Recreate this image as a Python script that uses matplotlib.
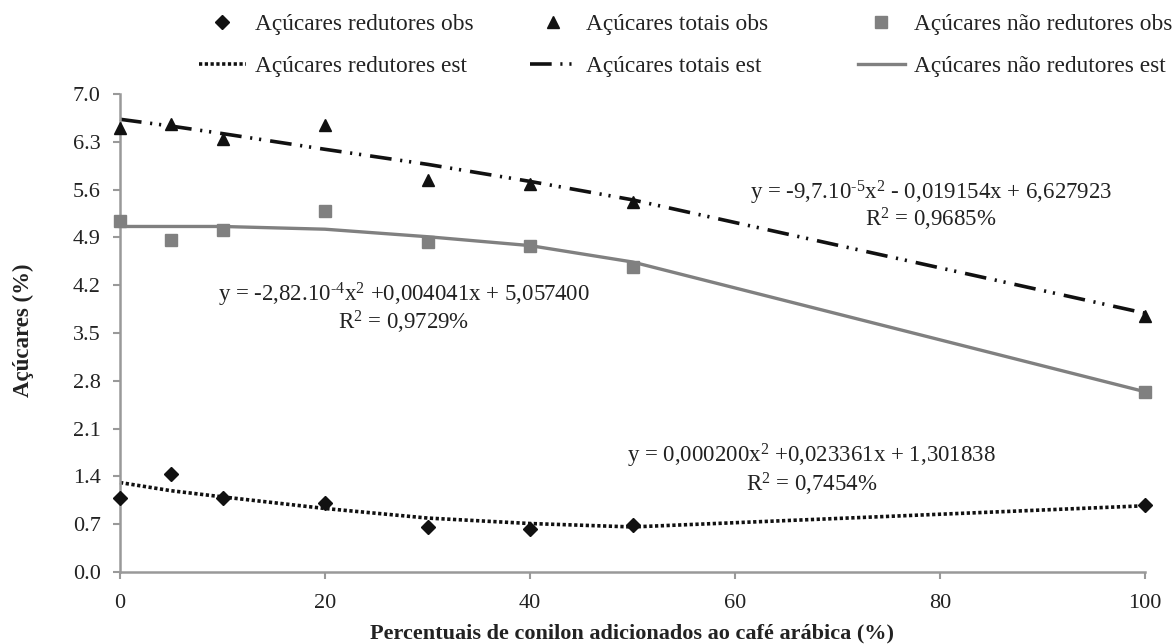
import matplotlib
matplotlib.use("Agg")
import matplotlib.pyplot as plt
from matplotlib.lines import Line2D

plt.rcParams['font.family'] = ['Liberation Serif', 'DejaVu Serif']
plt.rcParams['mathtext.fontset'] = 'custom'
plt.rcParams['mathtext.rm'] = 'Liberation Serif'
plt.rcParams['mathtext.it'] = 'Liberation Serif:italic'
plt.rcParams['mathtext.bf'] = 'Liberation Serif:bold'

x = [0, 5, 10, 20, 30, 40, 50, 100]
red_obs = [1.09, 1.44, 1.09, 1.01, 0.66, 0.63, 0.69, 0.98]
red_est = [1.31, 1.19, 1.10, 0.93, 0.79, 0.71, 0.66, 0.97]
tot_obs = [6.50, 6.56, 6.34, 6.55, 5.74, 5.68, 5.42, 3.75]
tot_est = [6.63, 6.53, 6.42, 6.19, 5.97, 5.72, 5.45, 3.79]
nr_obs = [5.14, 4.86, 5.01, 5.29, 4.83, 4.78, 4.47, 2.64]
nr_est = [5.06, 5.06, 5.06, 5.02, 4.91, 4.78, 4.54, 2.64]

xticks = [0, 20, 40, 60, 80, 100]
yticks = [0.0, 0.7, 1.4, 2.1, 2.8, 3.5, 4.2, 4.9, 5.6, 6.3, 7.0]

W, H = 1173, 644
fig = plt.figure(figsize=(W / 100, H / 100), dpi=100)
ax = fig.add_axes([120 / W, 1 - 572 / H, (1145 - 120) / W, (572 - 94) / H])

FS = 16.5
black = '#111111'
gray = '#808080'
dotted = (0, (0.9, 0.7))
dashdot = (0, (6.0, 2.4, 0.6, 1.9, 0.6, 2.5))

ax.plot(x, red_est, color=black, lw=2.6, linestyle=dotted, zorder=2)
ax.plot(x, tot_est, color=black, lw=2.6, linestyle=dashdot, zorder=2)
ax.plot(x, nr_est, color=gray, lw=2.4, linestyle='-', zorder=2)
ax.plot(x, red_obs, linestyle='none', marker='D', ms=7, color=black, zorder=3)
ax.plot(x, tot_obs, linestyle='none', marker='^', ms=9, color=black, zorder=3)
ax.plot(x, nr_obs, linestyle='none', marker='s', ms=8.5, color=gray, zorder=3)

ax.set_xlim(0, 100)
ax.set_ylim(0, 7.0)
ax.set_xticks(xticks)
ax.set_yticks(yticks)
ax.set_xticklabels([str(t) for t in xticks])
ax.set_yticklabels(['%.1f' % t for t in yticks])
ax.tick_params(axis='both', labelsize=16, colors='#999999', labelcolor='#222222',
               length=5, width=1.5, direction='out')
ax.tick_params(axis='x', pad=11)
ax.tick_params(axis='y', pad=9)
for s in ['top', 'right']:
    ax.spines[s].set_visible(False)
for s in ['left', 'bottom']:
    ax.spines[s].set_color('#999999')
    ax.spines[s].set_linewidth(1.8)
for ln in ax.lines:
    ln.set_clip_on(False)

fig.text(632 / W, 1 - 633 / H, 'Percentuais de conilon adicionados ao café arábica (%)',
         fontsize=16, fontweight='bold', color='#222222', ha='center', va='center')
fig.text(23 / W, 1 - 330 / H, 'Açúcares (%)', rotation=90,
         fontsize=16.5, fontweight='bold', color='#222222', ha='center', va='center')

eq_kw = dict(ha='center', va='center', fontsize=FS, color='#222222')
ax.text(79.1, 5.55, 'y = -9,7.10$^{\u20105}$x$^{2}$ - 0,019154x + 6,627923', **eq_kw)
ax.text(79.1, 5.16, 'R$^{2}$ = 0,9685%', **eq_kw)
ax.text(67.5, 1.70, 'y = 0,000200x$^{2}$ +0,023361x + 1,301838', **eq_kw)
ax.text(67.5, 1.29, 'R$^{2}$ = 0,7454%', **eq_kw)
ax.text(27.7, 4.06, 'y = -2,82.10$^{\u20104}$x$^{2}$ +0,004041x + 5,057400', **eq_kw)
ax.text(27.7, 3.65, 'R$^{2}$ = 0,9729%', **eq_kw)

groups = [
    (199, [Line2D([], [], linestyle='none', marker='D', ms=7, color=black),
           Line2D([], [], color=black, lw=2.6, linestyle=dotted)],
     ['Açúcares redutores obs', 'Açúcares redutores est']),
    (530, [Line2D([], [], linestyle='none', marker='^', ms=9, color=black),
           Line2D([], [], color=black, lw=2.6, linestyle=dashdot)],
     ['Açúcares totais obs', 'Açúcares totais est']),
    (858, [Line2D([], [], linestyle='none', marker='s', ms=8.5, color=gray),
           Line2D([], [], color=gray, lw=2.4)],
     ['Açúcares não redutores obs', 'Açúcares não redutores est']),
]
for xpix, handles, labels in groups:
    leg = fig.legend(handles, labels, loc='upper left',
                     bbox_to_anchor=(xpix / W, 1 - 14 / H), frameon=False,
                     fontsize=16.8, borderpad=0, borderaxespad=0, handlelength=2.0,
                     handletextpad=0.38, labelspacing=0.88)
    for t in leg.get_texts():
        t.set_color('#222222')

fig.savefig('out.png', dpi=100)
